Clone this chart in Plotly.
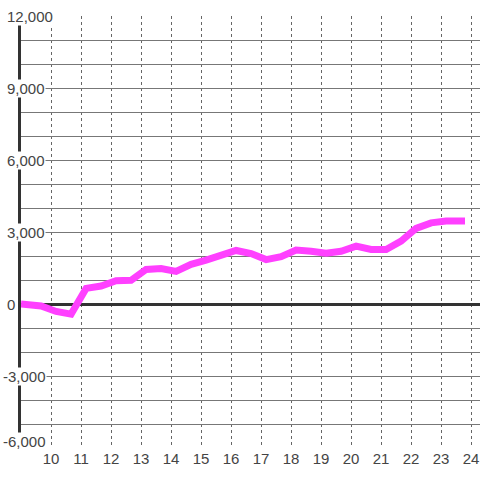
import plotly.graph_objects as go

hours = [9.0, 9.67, 10.17, 10.67, 11.17, 11.67, 12.17, 12.67, 13.17, 13.67,
         14.17, 14.67, 15.17, 15.67, 16.17, 16.67, 17.17, 17.67, 18.17, 18.67,
         19.17, 19.67, 20.17, 20.67, 21.17, 21.67, 22.17, 22.67, 23.17, 23.8]
values = [0, -80, -310, -420, 650, 750, 970, 990, 1440, 1480,
          1360, 1650, 1830, 2020, 2230, 2100, 1850, 1970, 2250, 2200,
          2120, 2200, 2410, 2270, 2270, 2620, 3150, 3380, 3460, 3460]

x_ticks = list(range(10, 25))
y_ticks = [12000, 9000, 6000, 3000, 0, -3000, -6000]
y_tick_labels = ["12,000", "9,000", "6,000", "3,000", "0", "-3,000", "-6,000"]

FONT = "Liberation Sans, Arial, sans-serif"
TXT = "#444444"

fig = go.Figure()
fig.add_trace(go.Scatter(
    x=hours, y=values, mode="lines",
    line=dict(color="#ff40ff", width=7),
    hoverinfo="skip",
))

for v, lab in zip(y_ticks, y_tick_labels):
    fig.add_annotation(
        x=0, xref="paper", y=v, yref="y",
        xanchor="left", yanchor="middle",
        xshift=-15 - (4 if lab.startswith("-") else 0),
        yshift=7 if v == min(y_ticks) else 0,
        text=lab, showarrow=False,
        font=dict(family=FONT, size=15, color=TXT),
        bgcolor="white", borderpad=0,
    )

fig.update_layout(
    width=480, height=480,
    margin=dict(l=21, r=0, t=16, b=32),
    paper_bgcolor="white", plot_bgcolor="white",
    showlegend=False,
    font=dict(family=FONT, size=15, color=TXT),
)
fig.update_xaxes(
    range=[9, 24.3], tickmode="array", tickvals=x_ticks,
    ticktext=[str(t) for t in x_ticks],
    showgrid=True, gridcolor="#666666", gridwidth=1, griddash="3px,3px",
    zeroline=False, showline=False, ticks="",
    tickfont=dict(family=FONT, size=15, color=TXT),
)
fig.update_yaxes(
    range=[-6000, 12000], dtick=1000, tick0=0,
    showgrid=True, gridcolor="#777777", gridwidth=1,
    zeroline=True, zerolinecolor="#333333", zerolinewidth=3,
    showline=True, linecolor="#333333", linewidth=3,
    showticklabels=False, ticks="",
)

fig.write_html("out.html", config={"displayModeBar": False},
               post_script="document.body.style.margin='0';document.body.style.overflow='hidden';")
